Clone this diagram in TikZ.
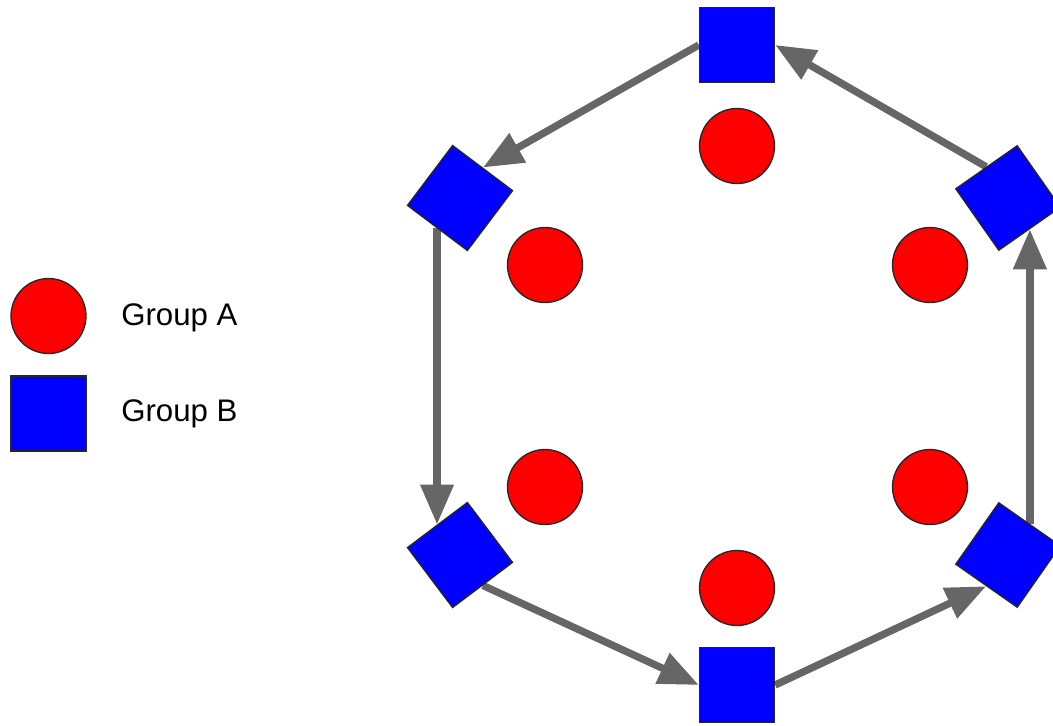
\documentclass[tikz,border=0pt]{standalone}
\usepackage{fontspec}
\setmainfont{Liberation Sans}
\usetikzlibrary{arrows.meta,backgrounds}
\definecolor{grpA}{HTML}{FF0000}
\definecolor{grpB}{HTML}{0000FF}
\definecolor{arrowgray}{HTML}{666666}
\tikzset{
  circA/.style={circle,fill=grpA,draw=black!85,line width=1pt,minimum size=56.25pt,inner sep=0pt},
  sqB/.style={rectangle,fill=grpB,draw=black!85,line width=1pt,minimum size=56.25pt,inner sep=0pt},
  flow/.style={draw=arrowgray,line width=5.5pt,-{Triangle[length=30pt,width=24pt]}},
  legendtext/.style={anchor=base west,inner sep=0pt,font=\fontsize{23.4pt}{28pt}\selectfont}
}
\begin{document}
\begin{tikzpicture}[x=0.75pt,y=-0.75pt]
\useasboundingbox (0,0) rectangle (1053,725);
\clip (0,0) rectangle (1053,725);
% hexagon squares
\node[sqB] (top) at (737,45) {};
\node[sqB,rotate=-37] (ul) at (460,198) {};
\node[sqB,rotate=35] (ur) at (1008,198) {};
\node[sqB,rotate=37] (ll) at (460,555) {};
\node[sqB,rotate=-35] (lr) at (1008,555) {};
\node[sqB] (bot) at (737,685) {};
% circles
\node[circA] (c1) at (737,146) {};
\node[circA] (c2) at (545,265) {};
\node[circA] (c3) at (930,265) {};
\node[circA] (c4) at (545,487) {};
\node[circA] (c5) at (930,487) {};
\node[circA] (c6) at (737,588) {};
% legend
\node[circA] (legA) at (48.5,316) {};
\node[sqB] (legB) at (48.5,413.5) {};
\node[legendtext] (txtA) at (121,325) {Group A};
\node[legendtext] (txtB) at (121,421) {Group B};
% arrows
\begin{scope}[on background layer]
\draw[flow] (top.west) -- (ul.north);
\draw[flow] (ul.south) -- (ll.north);
\draw[flow] (ll.south) -- (bot.west);
\draw[flow] (bot.east) -- (lr.south);
\draw[flow] (lr.north) -- (ur.south);
\draw[flow] (ur.north) -- (top.east);
\end{scope}
\end{tikzpicture}
\end{document}
